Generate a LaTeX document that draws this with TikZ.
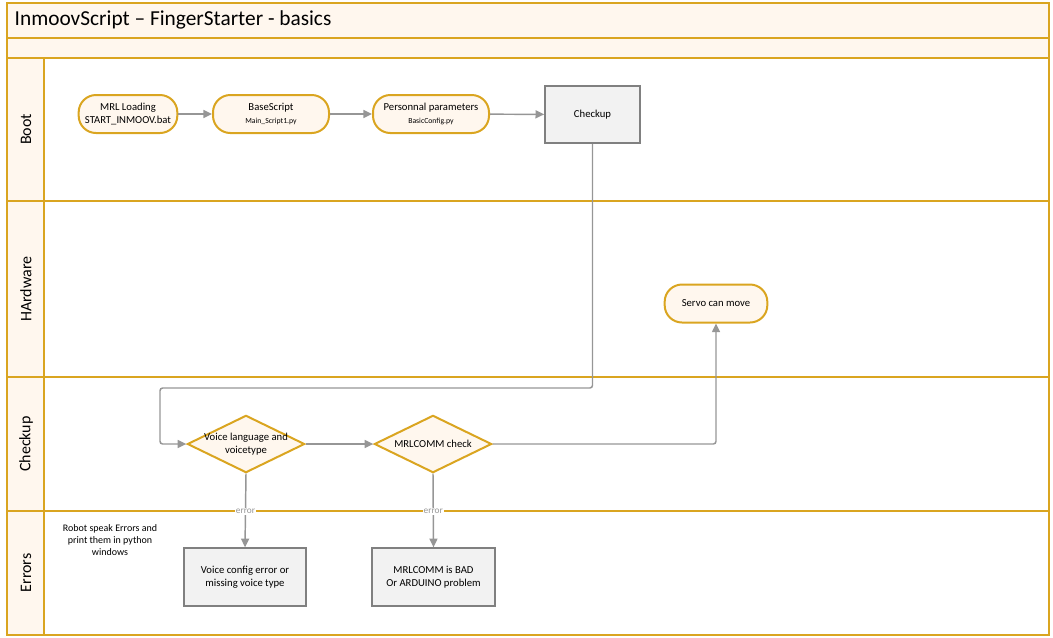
\documentclass[tikz,border=0pt]{standalone}
\usepackage{fontspec}
\setmainfont{Carlito}
\usetikzlibrary{shapes.geometric,arrows.meta}
\definecolor{lanegold}{RGB}{218,165,32}
\definecolor{lanefill}{RGB}{255,247,238}
\definecolor{boxfill}{RGB}{242,242,242}
\definecolor{boxline}{RGB}{128,128,128}
\definecolor{flowgray}{RGB}{150,150,150}
\tikzset{
  lane/.style={draw=lanegold,line width=1.5pt},
  lanetitle/.style={rotate=90,font=\fontsize{12}{14}\selectfont},
  pill/.style={draw=lanegold,fill=lanefill,line width=1.5pt,rounded corners=13pt,
    minimum height=28.5pt,align=center,inner sep=1pt,font=\fontsize{8}{9.5}\selectfont},
  decision/.style={diamond,draw=lanegold,fill=lanefill,line width=1.5pt,
    minimum width=88pt,minimum height=43pt,inner sep=0pt},
  stepbox/.style={draw=boxline,fill=boxfill,line width=1.5pt,align=center,
    font=\fontsize{8}{9.5}\selectfont},
  flow/.style={draw=flowgray,line width=1.1pt,-{Triangle[length=6.5pt,width=6pt]}},
  errtag/.style={fill=white,text=flowgray,inner sep=0.8pt,font=\fontsize{7}{8}\selectfont}
}
\newcommand{\filename}[1]{{\fontsize{5.8}{7}\selectfont #1}}
\begin{document}
\begin{tikzpicture}[x=0.75pt,y=-0.75pt]
\useasboundingbox (0,0) rectangle (1053,637);
% swimlanes
\fill[lanefill] (7,3) rectangle (1049,58);
\fill[lanefill] (7,58) rectangle (44,635);
\draw[lane] (7,3) rectangle (1049,635);
\foreach \y in {38,58,201,377,511}
  \draw[lane] (7,\y) -- (1049,\y);
\draw[lane] (44,58) -- (44,635);
\node[anchor=west,font=\fontsize{16}{19}\selectfont] (title) at (10,20) {InmoovScript -- FingerStarter - basics};
\node[lanetitle] (boot) at (26,129.5) {Boot};
\node[lanetitle] (hardware) at (26,289) {HArdware};
\node[lanetitle] (checkup) at (26,444) {Checkup};
\node[lanetitle] (errors) at (26,573) {Errors};
% boot
\node[pill,minimum width=74pt] (mrl) at (128,114) {MRL Loading\\START\_INMOOV.bat};
\node[pill,minimum width=87pt] (base) at (271,114) {BaseScript\\\filename{Main\_Script1.py}};
\node[pill,minimum width=87pt] (params) at (431,114) {Personnal parameters\\\filename{BasicConfig.py}};
\node[stepbox,minimum width=71pt,minimum height=43pt] (check) at (592.5,114.5) {Checkup};
% hardware
\node[pill,minimum width=77pt] (servo) at (716,303.5) {Servo can move};
% checkup
\node[decision,label={[align=center,font=\fontsize{8}{9.5}\selectfont]center:Voice language and\\voicetype}] (voice) at (246,444) {};
\node[decision,label={[font=\fontsize{8}{9.5}\selectfont]center:MRLCOMM check}] (mrlcomm) at (433,444) {};
% errors
\node[align=center,font=\fontsize{7.5}{9}\selectfont] (note) at (110,540) {Robot speak Errors and\\print them in python\\windows};
\node[stepbox,minimum width=91pt,minimum height=43pt] (voiceerr) at (245,577) {Voice config error or\\missing voice type};
\node[stepbox,minimum width=92pt,minimum height=43pt] (commerr) at (433.5,577) {MRLCOMM is BAD\\Or ARDUINO problem};
% connectors
\coordinate (loop) at (160,388);
\draw[flow] (mrl) -- (base);
\draw[flow] (base) -- (params);
\draw[flow] (params) -- (check);
\draw[flow,rounded corners=2pt] (check.south) |- (loop) |- (voice.west);
\draw[flow] (voice) -- (mrlcomm);
\draw[flow,rounded corners=2pt] (mrlcomm.east) -| (servo.south);
\draw[flow] (voice.south) -- node[errtag,pos=0.51] (err1) {error} (voiceerr.north);
\draw[flow] (mrlcomm.south) -- node[errtag,pos=0.51] (err2) {error} (commerr.north);
\end{tikzpicture}
\end{document}
